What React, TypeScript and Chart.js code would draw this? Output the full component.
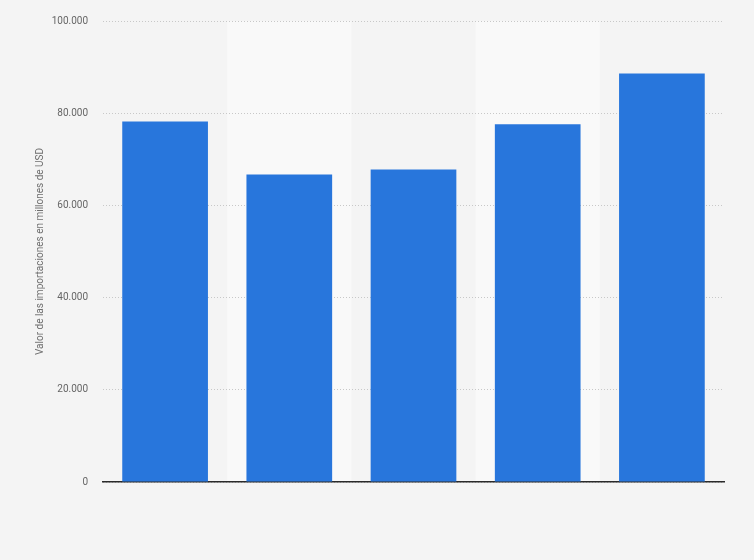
import React, { useEffect, useRef } from "react";
import { Chart, registerables } from "chart.js";

Chart.register(...registerables);

// categories are not labelled in the picture
const categories = ["1", "2", "3", "4", "5"];
const importValues = [78200, 66700, 67800, 77600, 88600];
const yTicks = [0, 20000, 40000, 60000, 80000, 100000];

const formatNumber = (v: number) =>
  String(Math.round(v)).replace(/\B(?=(\d{3})+(?!\d))/g, ".");

const bandPlugin = {
  id: "bands",
  beforeDraw(chart: any) {
    const { ctx, chartArea, scales } = chart;
    ctx.save();
    ctx.fillStyle = "#f4f4f4";
    ctx.fillRect(0, 0, chart.width, chart.height);
    const x = scales.x;
    const step = (chartArea.right - chartArea.left) / categories.length;
    ctx.fillStyle = "#f9f9f9";
    categories.forEach((_, i) => {
      if (i % 2 === 1) {
        const cx = x.getPixelForValue(i);
        ctx.fillRect(cx - step / 2, chartArea.top, step, chartArea.bottom - chartArea.top);
      }
    });
    ctx.restore();
  },
};

const App: React.FC = () => {
  const chartRef = useRef<HTMLCanvasElement>(null);
  const chartInstance = useRef<Chart | null>(null);

  useEffect(() => {
    if (!chartRef.current) return;
    if (chartInstance.current) chartInstance.current.destroy();

    chartInstance.current = new Chart(chartRef.current, {
      type: "bar",
      data: {
        labels: categories,
        datasets: [
          {
            label: "Valor de las importaciones",
            data: importValues,
            backgroundColor: "#2876dc",
            borderWidth: 0,
            barPercentage: 0.69,
            categoryPercentage: 1,
          },
        ],
      },
      options: {
        animation: false,
        responsive: true,
        maintainAspectRatio: false,
        layout: { padding: { top: 19, right: 30, bottom: 70, left: 0 } },
        plugins: {
          legend: { display: false },
          tooltip: { enabled: false },
        },
        scales: {
          x: {
            grid: { display: false },
            ticks: { display: false },
            border: { display: true, color: "#2a2a2a", width: 1.5 },
          },
          y: {
            min: 0,
            max: 100000,
            afterBuildTicks: (axis: any) => {
              axis.ticks = yTicks.map((v) => ({ value: v }));
            },
            afterFit: (axis: any) => {
              axis.width = 103;
            },
            grid: {
              color: "#c8c8c8",
              lineWidth: 1,
              drawTicks: false,
            },
            border: { display: false, dash: [1, 2] },
            ticks: {
              padding: 15,
              color: "#666666",
              font: { family: "Roboto, Arial, sans-serif", size: 10 },
              callback: (v: any) => formatNumber(Number(v)),
            },
            title: {
              display: true,
              text: "Valor de las importaciones en millones de USD",
              color: "#6f6f6f",
              font: { family: "Roboto, Arial, sans-serif", size: 10 },
              padding: { top: 34, bottom: 0 },
            },
          },
        },
      },
      plugins: [bandPlugin],
    });

    return () => {
      if (chartInstance.current) {
        chartInstance.current.destroy();
        chartInstance.current = null;
      }
    };
  }, []);

  return (
    <div
      style={{
        position: "absolute",
        left: 0,
        top: 0,
        width: 754,
        height: 560,
        background: "#f4f4f4",
      }}
    >
      <canvas ref={chartRef} />
    </div>
  );
};

export default App;
